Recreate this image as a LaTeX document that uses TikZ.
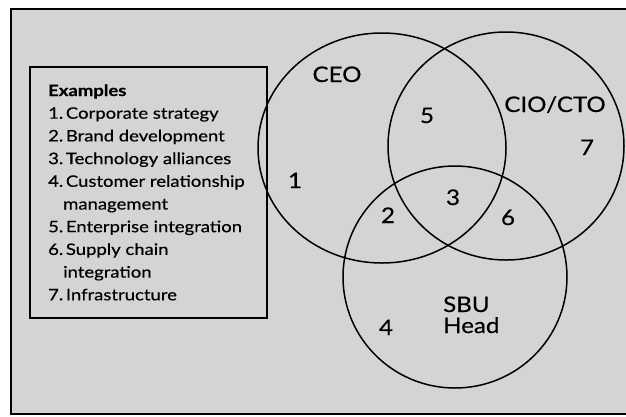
\documentclass[tikz,border=0pt]{standalone}
\usepackage{fontspec}
\setmainfont{Lato}
\newfontfamily\legfont[FakeStretch=1.17,FakeBold=0.4]{Lato}
\newfontfamily\labfont[FakeStretch=1.12,FakeBold=0.4]{Lato}
\usetikzlibrary{shapes.geometric}
\begin{document}
\begin{tikzpicture}[x=1pt,y=-1pt,
  bg/.style={fill=black!17},
  frameline/.style={line width=1.3pt},
  setring/.style={draw, ellipse, line width=1.5pt, inner sep=0pt, outer sep=0pt},
  legline/.style={anchor=base west, inner sep=0pt, font=\legfont\fontsize{15.8}{18}\selectfont},
  lab/.style={anchor=base, inner sep=0pt, font=\labfont\fontsize{21.5}{24}\selectfont},
  labw/.style={anchor=base west, inner sep=0pt, font=\labfont\fontsize{21.5}{24}\selectfont}]
\useasboundingbox (0,0) rectangle (626,416);
\fill[bg] (11,9) rectangle (626,414);
\draw[frameline] (626,9) -- (11,9) -- (11,414) -- (626,414);
% legend box
\draw[line width=1.2pt] (30,67) rectangle (267,318);
\node[legline, font=\legfont\fontsize{15.8}{18}\selectfont\bfseries] (l0) at (48,96) {Examples};
\node[legline] (l1) at (48,118.7) {1.\,Corporate strategy};
\node[legline] (l2) at (48,141.4) {2.\,Brand development};
\node[legline] (l3) at (48,164.1) {3.\,Technology alliances};
\node[legline] (l4) at (48,186.8) {4.\,Customer relationship};
\node[legline] (l4b) at (63,209.5) {management};
\node[legline] (l5) at (48,232.2) {5.\,Enterprise integration};
\node[legline] (l6) at (48,254.9) {6.\,Supply chain};
\node[legline] (l6b) at (63,277.6) {integration};
\node[legline] (l7) at (48,300.3) {7.\,Infrastructure};
% sets
\node[setring, minimum width=248pt, minimum height=230pt] (ceo) at (382,148) {};
\node[setring, minimum width=236pt, minimum height=228pt] (cio) at (506,146) {};
\node[setring, minimum width=224pt, minimum height=222pt] (sbu) at (455,277) {};
% labels
\node[lab] (tceo) at (337,82) {CEO};
\node[lab] (tcio) at (555,112) {CIO/CTO};
\node[labw] (tsbu) at (443,312) {SBU};
\node[labw] (thead) at (443,333) {Head};
\node[lab] (n1) at (295,188) {1};
\node[lab] (n2) at (388,223) {2};
\node[lab] (n3) at (453,205) {3};
\node[lab] (n4) at (386,335) {4};
\node[lab] (n5) at (427,123) {5};
\node[lab] (n6) at (508,225) {6};
\node[lab] (n7) at (587,155) {7};
\end{tikzpicture}
\end{document}
